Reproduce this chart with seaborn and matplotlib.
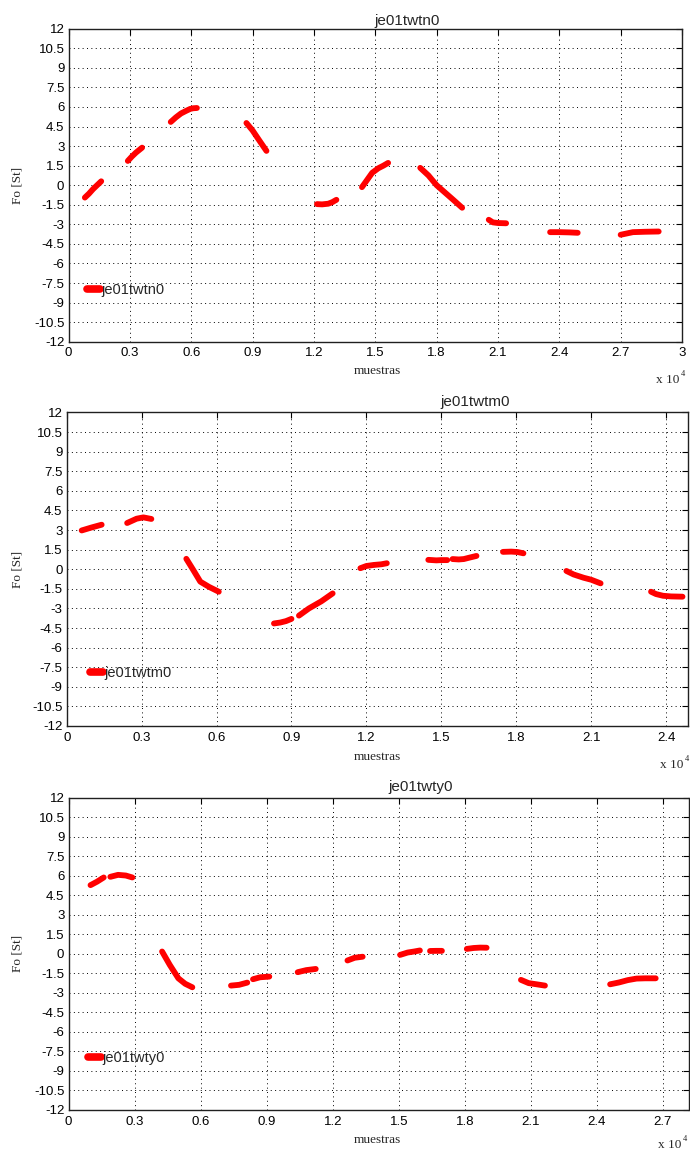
import numpy as np
import pandas as pd
import matplotlib
matplotlib.use("Agg")
import matplotlib.pyplot as plt
import seaborn as sns
from matplotlib.lines import Line2D

# ---------------- data (x in samples, y in St) ----------------
names = ["je01twtn0", "je01twtm0", "je01twty0"]

# panel 1 : je01twtn0  (list of segments: (x list, y list))
p1_x = [
    [800, 1000, 1200, 1400, 1600],
    [2900, 3100, 3300, 3600],
    [5000, 5250, 5500, 5750, 5950, 6100, 6280],
    [8700, 9000, 9300, 9680],
    [12150, 12400, 12700, 12900, 13100],
    [14350, 14600, 14850, 15150, 15400, 15630],
    [17200, 17600, 18000, 18400, 18800, 19250],
    [20550, 20750, 21000, 21400],
    [23550, 24000, 24500, 24900],
    [27000, 27300, 27600, 28200, 28860],
]
p1_y = [
    [-0.95, -0.65, -0.3, 0.0, 0.3],
    [1.86, 2.2, 2.5, 2.88],
    [4.85, 5.2, 5.5, 5.7, 5.85, 5.9, 5.92],
    [4.77, 4.2, 3.5, 2.63],
    [-1.45, -1.47, -1.42, -1.3, -1.12],
    [-0.15, 0.4, 0.95, 1.3, 1.5, 1.71],
    [1.33, 0.75, 0.0, -0.55, -1.1, -1.73],
    [-2.65, -2.85, -2.9, -2.92],
    [-3.6, -3.6, -3.62, -3.65],
    [-3.8, -3.7, -3.6, -3.57, -3.55],
]

# panel 2 : je01twtm0
p2_x = [
    [600, 1000, 1400],
    [2420, 2800, 3070, 3390],
    [4790, 5050, 5350, 5700, 6090],
    [8300, 8550, 8780, 9000],
    [9300, 9700, 10200, 10650],
    [11760, 12000, 12300, 12600, 12820],
    [14480, 14800, 15000, 15240],
    [15450, 15700, 15900, 16150, 16410],
    [17470, 17800, 18050, 18290],
    [20010, 20300, 20700, 21000, 21380],
    [23400, 23600, 23880, 24200, 24660],
]
p2_y = [
    [2.97, 3.2, 3.41],
    [3.54, 3.87, 3.97, 3.85],
    [0.8, 0.0, -0.95, -1.35, -1.72],
    [-4.15, -4.08, -3.97, -3.8],
    [-3.55, -3.0, -2.45, -1.85],
    [0.08, 0.25, 0.33, 0.38, 0.46],
    [0.72, 0.68, 0.7, 0.7],
    [0.78, 0.75, 0.78, 0.9, 1.02],
    [1.33, 1.35, 1.32, 1.22],
    [-0.13, -0.4, -0.65, -0.8, -1.08],
    [-1.72, -1.9, -2.03, -2.08, -2.1],
]

# panel 3 : je01twty0
p3_x = [
    [1000, 1300, 1600],
    [1900, 2250, 2600, 2900],
    [4250, 4600, 4990, 5300, 5625],
    [7380, 7750, 8120],
    [8380, 8700, 9120],
    [10410, 10800, 11230],
    [12670, 13000, 13360],
    [15060, 15400, 15700, 15960],
    [16420, 16700, 16960],
    [18090, 18400, 18700, 18990],
    [20550, 20900, 21300, 21640],
    [24600, 25000, 25400, 25800, 26200, 26670],
]
p3_y = [
    [5.28, 5.55, 5.87],
    [5.92, 6.07, 6.02, 5.87],
    [0.18, -0.85, -1.88, -2.3, -2.57],
    [-2.44, -2.38, -2.21],
    [-1.95, -1.8, -1.75],
    [-1.41, -1.25, -1.16],
    [-0.51, -0.3, -0.22],
    [-0.08, 0.1, 0.18, 0.26],
    [0.22, 0.23, 0.23],
    [0.38, 0.45, 0.48, 0.47],
    [-2.0, -2.25, -2.35, -2.44],
    [-2.34, -2.2, -2.02, -1.9, -1.88, -1.88],
]

x_max = [30000, 24900, 28160]
y_ticks = [-12, -10.5, -9, -7.5, -6, -4.5, -3, -1.5, 0, 1.5, 3, 4.5, 6, 7.5, 9, 10.5, 12]
x_tick_step = 3000
x_label = "muestras"
y_label = "Fo [St]"

# ---------------- layout (pixels) ----------------
W, H = 690, 1159
sns.set_theme(style="white")
plt.rcParams["font.family"] = ["Liberation Sans", "DejaVu Sans"]
SERIF = ["Liberation Serif", "DejaVu Serif"]

fig = plt.figure(figsize=(W / 100, H / 100), dpi=100)
fig.patch.set_facecolor("white")

layout = [
    dict(box=(68.5, 28.7, 682.0, 341.7), title=(407, 20.7), leg=(87, 290),
         xl=(377, 371), exp=(679, 380)),
    dict(box=(66.7, 412.5, 688.5, 726.0), title=(475, 402), leg=(90, 673),
         xl=(377, 757), exp=(683, 765)),
    dict(box=(68.5, 797.7, 688.5, 1110.0), title=(421, 786.7), leg=(88, 1057.7),
         xl=(377, 1140), exp=(681, 1145)),
]

all_x = [p1_x, p2_x, p3_x]
all_y = [p1_y, p2_y, p3_y]

for k in range(3):
    L = layout[k]
    left, top, right, bottom = L["box"]
    ax = fig.add_axes([left / W, 1 - bottom / H, (right - left) / W, (bottom - top) / H])
    ax.set_facecolor("white")

    rows = []
    for s, (xs, ys) in enumerate(zip(all_x[k], all_y[k])):
        for xv, yv in zip(xs, ys):
            rows.append({"x": xv, "y": yv, "seg": s})
    df = pd.DataFrame(rows)

    sns.lineplot(data=df, x="x", y="y", units="seg", estimator=None, sort=False,
                 color="#ff0000", linewidth=4.2, ax=ax, legend=False,
                 solid_capstyle="round", solid_joinstyle="round")

    ax.set_xlim(0, x_max[k])
    ax.set_ylim(-12, 12)
    xt = np.arange(0, x_max[k] + 1, x_tick_step)
    ax.set_xticks(xt)
    ax.set_xticklabels([f"{v / 1e4:g}" for v in xt])
    ax.set_yticks(y_ticks)
    ax.set_yticklabels([f"{v:g}" for v in y_ticks])
    ax.set_xlabel("")
    ax.set_ylabel("")

    ax.set_axisbelow(True)
    ax.grid(True, color="black", linestyle=(0, (1, 3.5)), linewidth=0.7)
    ax.tick_params(direction="in", top=True, right=True, length=4, width=0.8,
                   labelsize=9.5, colors="black")
    ax.tick_params(axis="y", pad=3)
    ax.tick_params(axis="x", pad=4)
    for sp in ax.spines.values():
        sp.set_visible(True)
        sp.set_color("#202020")
        sp.set_linewidth(1.0)

    # legend
    lx, ly = L["leg"]
    h = Line2D([], [], color="#ff0000", lw=5.5, solid_capstyle="round")
    ax.legend(handles=[h], labels=[names[k]], loc="center left",
              bbox_to_anchor=((lx - left) / (right - left), (bottom - ly) / (bottom - top)),
              frameon=False, handlelength=0.9, handletextpad=0.1, borderpad=0,
              borderaxespad=0, fontsize=10.5)

    # title
    tx, ty = L["title"]
    fig.text(tx / W, 1 - ty / H, names[k], ha="center", va="center", fontsize=11)

    # axis labels
    xx, xy = L["xl"]
    fig.text(xx / W, 1 - xy / H, x_label, ha="center", va="center",
             fontsize=9.5, family=SERIF)
    fig.text(18 / W, 1 - ((top + bottom) / 2) / H, y_label, ha="center", va="center",
             rotation=90, fontsize=9.5, family=SERIF)

    # exponent label
    ex, ey = L["exp"]
    fig.text(ex / W, 1 - ey / H, "x 10", ha="right", va="center",
             fontsize=9.5, family=SERIF)
    fig.text((ex + 1.5) / W, 1 - (ey - 6) / H, "4", ha="left", va="center",
             fontsize=6, family=SERIF)

fig.savefig("out.png", dpi=100, facecolor="white")
